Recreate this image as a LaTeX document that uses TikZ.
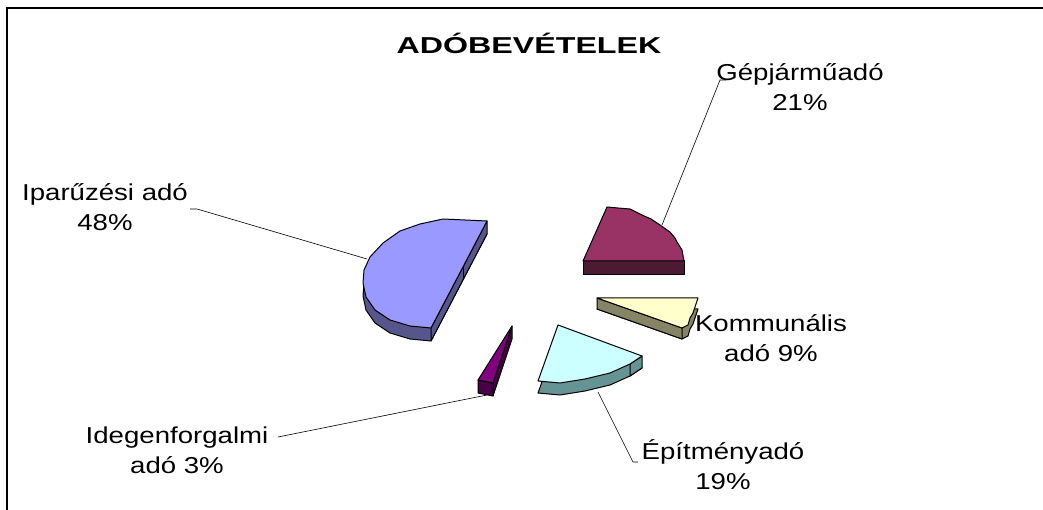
\documentclass[tikz,border=0pt]{standalone}
\usepackage{fontspec}
\setmainfont{Liberation Sans}
\usepackage{graphicx}
\newcommand\strt[1]{\scalebox{1.2}[1]{#1}}
\newcommand\strtb[1]{\scalebox{1.4}[1]{#1}}
\definecolor{blueTop}{HTML}{9999FF}
\definecolor{blueSide}{HTML}{56568C}
\definecolor{marTop}{HTML}{993366}
\definecolor{marSide}{HTML}{4D1A33}
\definecolor{yelTop}{HTML}{FFFFCC}
\definecolor{yelSide}{HTML}{858566}
\definecolor{cyaTop}{HTML}{CCFFFF}
\definecolor{cyaSide}{HTML}{669494}
\definecolor{purTop}{HTML}{800080}
\definecolor{purSide}{HTML}{470047}
\begin{document}
\begin{tikzpicture}[x=1pt,y=-1pt,
  edge/.style={draw=black, line width=1pt, line join=round},
  lead/.style={draw=black, line width=0.6pt},
  lbl/.style={inner sep=0pt, align=center, font=\fontsize{23}{30}\selectfont}]
\useasboundingbox (0,0) rectangle (1043,510);
% frame
\draw[line width=2.5pt] (7,515) -- (7,8) -- (1050,8);

% title
\node[inner sep=0pt, font=\fontsize{23}{26}\selectfont\bfseries] (title) at (529,43) {\strtb{ADÓBEVÉTELEK}};

% ---- Iparuzesi (blue)
\def\bluepath{(487,221) -- (443,219) -- (420,224) -- (400,231) -- (383,243) -- (370,257) -- (364,270) -- (363,283) -- (366,297) -- (375,310) -- (390,320) -- (410,326) -- (431,328) -- cycle}
\begin{scope}[yshift=-13pt]
\filldraw[edge, fill=blueSide] \bluepath;
\end{scope}
\filldraw[edge, fill=blueSide] (487,221) -- (487,234) -- (431,341) -- (431,328) -- cycle;
\draw[edge] (463,266) -- (463,279);
\filldraw[edge, fill=blueTop] \bluepath;

% ---- Gepjarmu (maroon)
\filldraw[edge, fill=marSide] (583,261) -- (684,261) -- (684,275) -- (583,275) -- cycle;
\filldraw[edge, fill=marTop] (583,261) -- (607,207) -- (618,208) -- (630,209) -- (642,215) -- (651,219) -- (660,225) -- (670,232) -- (675,238) -- (677,242) -- (682,250) -- (684,261) -- cycle;

% ---- Kommunalis (yellow)
\def\yelpath{(597,298) -- (698,298) -- (696,304) -- (693,313) -- (690,318) -- (688,325) -- (682,328) -- cycle}
\begin{scope}[yshift=-11pt]
\filldraw[edge, fill=yelSide] \yelpath;
\end{scope}
\filldraw[edge, fill=yelSide] (597,298) -- (682,328) -- (682,339) -- (597,309) -- cycle;
\filldraw[edge, fill=yelTop] \yelpath;

% ---- Epitmeny (cyan)
\def\cyapath{(558,325) -- (642,356) -- (630,364) -- (610,373) -- (585,379) -- (560,383) -- (538,381) -- cycle}
\begin{scope}[yshift=-12pt]
\filldraw[edge, fill=cyaSide] \cyapath;
\end{scope}
\filldraw[edge, fill=cyaSide] (642,356) -- (642,368) -- (630,376) -- (630,364) -- cycle;
\filldraw[edge, fill=cyaTop] \cyapath;

% ---- Idegenforgalmi (purple)
\filldraw[edge, fill=purSide] (512,326) -- (512,339) -- (493,396) -- (493,383) -- cycle;
\filldraw[edge, fill=purSide] (478,380) -- (493,383) -- (493,396) -- (478,393) -- cycle;
\filldraw[edge, fill=purTop] (512,326) -- (478,380) -- (493,383) -- cycle;

% ---- labels
\node[lbl] (ipar) at (105,207) {\strt{Iparűzési adó}\\\strt{48\%}};
\node[lbl] (gep) at (800,87) {\strt{Gépjárműadó}\\\strt{21\%}};
\node[lbl] (komm) at (771,338) {\strt{Kommunális}\\\strt{adó 9\%}};
\node[lbl] (ideg) at (177,450) {\strt{Idegenforgalmi}\\\strt{adó 3\%}};
\node[lbl] (epit) at (723,465) {\strt{Építményadó}\\\strt{19\%}};

% ---- leader lines
\coordinate (iparA) at (190,209);
\coordinate (iparB) at (197,209);
\coordinate (iparT) at (367,259);
\draw[lead] (iparA) -- (iparB) -- (iparT);
\coordinate (gepT) at (662,225);
\coordinate (gepK) at (720,80);
\coordinate (gepE) at (726,80);
\draw[lead] (gepT) -- (gepK) -- (gepE);
\coordinate (idegT) at (487,395);
\coordinate (idegE) at (278,437);
\draw[lead] (idegE) -- (idegT);
\coordinate (epitT) at (598,392);
\coordinate (epitK) at (633,462);
\coordinate (epitE) at (638,462);
\draw[lead] (epitT) -- (epitK) -- (epitE);
\end{tikzpicture}
\end{document}
